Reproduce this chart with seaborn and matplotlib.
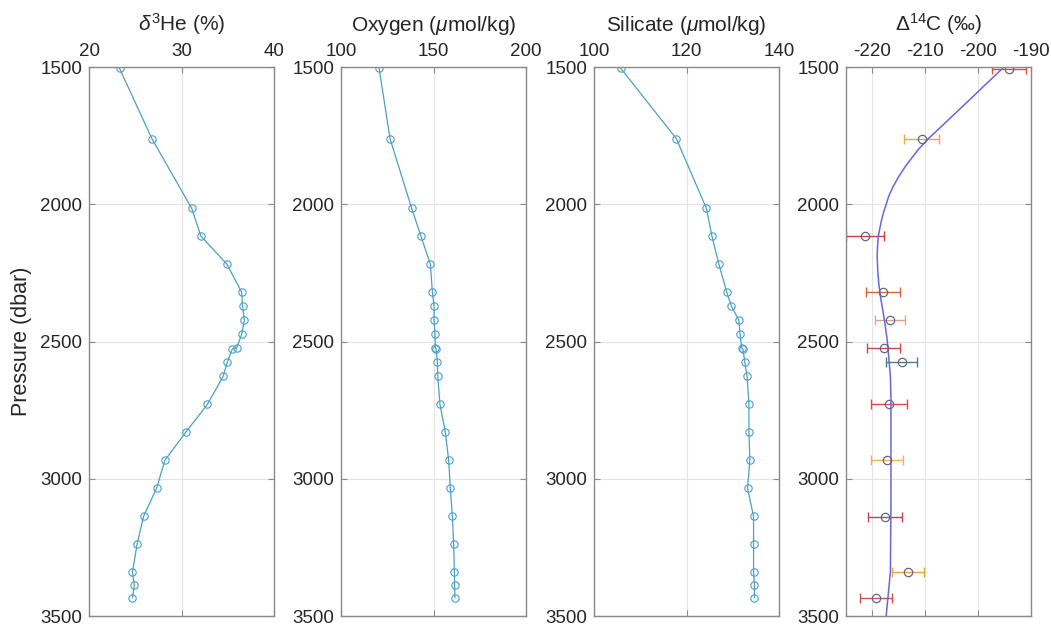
import numpy as np
import pandas as pd
import matplotlib
matplotlib.use("Agg")
import matplotlib.pyplot as plt
import seaborn as sns

# ---------------- data ----------------
pressure = [1505, 1761, 2015, 2116, 2218, 2320, 2371, 2422, 2474, 2523, 2527,
            2575, 2627, 2729, 2831, 2933, 3035, 3137, 3238, 3340, 3388, 3434]

helium3 = [23.3, 26.8, 31.1, 32.1, 34.9, 36.5, 36.6, 36.8, 36.5, 35.97, 35.5,
           34.95, 34.5, 32.8, 30.45, 28.2, 27.3, 25.9, 25.2, 24.7, 24.9, 24.7]

oxygen = [120.6, 126.5, 138.2, 143.2, 148.3, 149.4, 150.3, 150.3, 150.8, 151.0, 151.4,
          152.1, 152.3, 153.5, 156.4, 158.2, 159.1, 160.2, 160.9, 161.3, 161.4, 161.6]

silicate = [105.8, 117.8, 124.3, 125.5, 127.0, 128.7, 129.7, 131.3, 131.6, 131.9, 132.2,
            132.6, 133.1, 133.5, 133.5, 133.7, 133.2, 134.5, 134.5, 134.5, 134.7, 134.7]

c14_pressure = [1507, 1761, 2117, 2321, 2423, 2525, 2576, 2729, 2933, 3138, 3341, 3436]
c14_value = [-194.2, -210.7, -221.4, -218.0, -216.7, -217.9, -214.5, -216.8,
             -217.2, -217.6, -213.3, -219.3]
c14_err = [3.2, 3.3, 3.6, 3.3, 2.9, 3.1, 2.9, 3.4, 3.0, 3.2, 3.0, 3.0]
c14_err_colors = ['#e0503a', '#f0a83a', '#d23c3c', '#e2603e', '#e8a080', '#d64444',
                  '#4e7e84', '#de4a3c', '#f0b050', '#c4405a', '#f0a040', '#d24c4c']

fit_pressure = [1500, 1560, 1620, 1690, 1761, 1800, 1830, 1863, 1900, 1936, 1970,
                2000, 2030, 2060, 2117, 2160, 2190, 2240, 2290, 2340, 2390, 2440,
                2495, 2560, 2628, 2700, 2900, 3100, 3340, 3420, 3500]
fit_value = [-195.1, -198.4, -201.65, -205.5, -209.4, -211.3, -212.5, -213.8, -215.05,
             -216.1, -216.9, -217.4, -217.9, -218.3, -218.9, -219.05, -219.1, -219.0,
             -218.8, -218.45, -218.0, -217.6, -217.2, -216.9, -216.6, -216.5, -216.5,
             -216.5, -216.6, -217.0, -217.4]

titles = [r'$\delta^{3}$He (%)', r'Oxygen ($\mu$mol/kg)',
          r'Silicate ($\mu$mol/kg)', r'$\Delta^{14}$C (‰)']
xlims = [(20, 40), (100, 200), (100, 140), (-225, -190)]
xticks = [[20, 30, 40], [100, 150, 200], [100, 120, 140], [-220, -210, -200, -190]]
yticks = [1500, 2000, 2500, 3000, 3500]

# ---------------- style ----------------
sns.set_theme(style="white")
plt.rcParams['font.family'] = ['Liberation Sans', 'DejaVu Sans']
plt.rcParams['mathtext.fontset'] = 'custom'
plt.rcParams['mathtext.rm'] = 'Liberation Sans'
plt.rcParams['mathtext.it'] = 'Liberation Sans:italic'
plt.rcParams['mathtext.bf'] = 'Liberation Sans:bold'
plt.rcParams['axes.unicode_minus'] = False

W, H = 1051, 626
fig = plt.figure(figsize=(W / 100, H / 100), dpi=100)
fig.patch.set_facecolor('white')

lefts = [89, 341, 594, 846]
ax_w, ax_h, ax_bottom = 185, 549, 10
line_col = '#4aa0c8'
text_col = '#262626'
spine_col = '#8a8a8a'

df = pd.DataFrame({'pressure': pressure, 'helium3': helium3,
                   'oxygen': oxygen, 'silicate': silicate})
fit_df = pd.DataFrame({'pressure': fit_pressure, 'value': fit_value})

axes = []
for i, l in enumerate(lefts):
    ax = fig.add_axes([l / W, ax_bottom / H, ax_w / W, ax_h / H])
    axes.append(ax)

for ax, col in zip(axes[:3], ['helium3', 'oxygen', 'silicate']):
    sns.lineplot(data=df, x=col, y='pressure', ax=ax, sort=False, estimator=None,
                 color=line_col, linewidth=0.9, marker='o', markersize=5.3,
                 markerfacecolor='none', markeredgecolor=line_col,
                 markeredgewidth=0.8)

ax4 = axes[3]
for p, v, e, c in zip(c14_pressure, c14_value, c14_err, c14_err_colors):
    ax4.errorbar(v, p, xerr=e, fmt='none', ecolor=c, elinewidth=1.0,
                 capsize=3.5, capthick=1.0)
sns.lineplot(data=fit_df, x='value', y='pressure', ax=ax4, sort=False,
             estimator=None, color='#6a66d8', linewidth=1.1)
ax4.plot(c14_value, c14_pressure, linestyle='none', marker='o', markersize=6,
         markerfacecolor='none', markeredgecolor='#5a6a88', markeredgewidth=0.9)

for i, ax in enumerate(axes):
    ax.set_xlim(*xlims[i])
    ax.set_ylim(3500, 1500)
    ax.set_xticks(xticks[i])
    ax.set_yticks(yticks)
    ax.xaxis.set_ticks_position('both')
    ax.yaxis.set_ticks_position('both')
    ax.xaxis.set_label_position('top')
    ax.tick_params(axis='x', which='both', labeltop=True, labelbottom=False)
    ax.tick_params(direction='in', length=4, width=0.8, color=spine_col,
                   labelsize=13.5, labelcolor=text_col, pad=5)
    ax.grid(True, color='#e4e4e4', linewidth=0.8)
    ax.set_axisbelow(True)
    for s in ax.spines.values():
        s.set_color(spine_col)
        s.set_linewidth(1.0)
        s.set_visible(True)
    ax.set_xlabel(titles[i], fontsize=15, color=text_col, labelpad=9)
    ax.set_ylabel('')
    ax.set_facecolor('white')

axes[0].set_ylabel('Pressure (dbar)', fontsize=15.5, color=text_col)
axes[0].yaxis.set_label_coords(-0.31, 0.5)

fig.savefig('out.png', dpi=100, facecolor='white')
